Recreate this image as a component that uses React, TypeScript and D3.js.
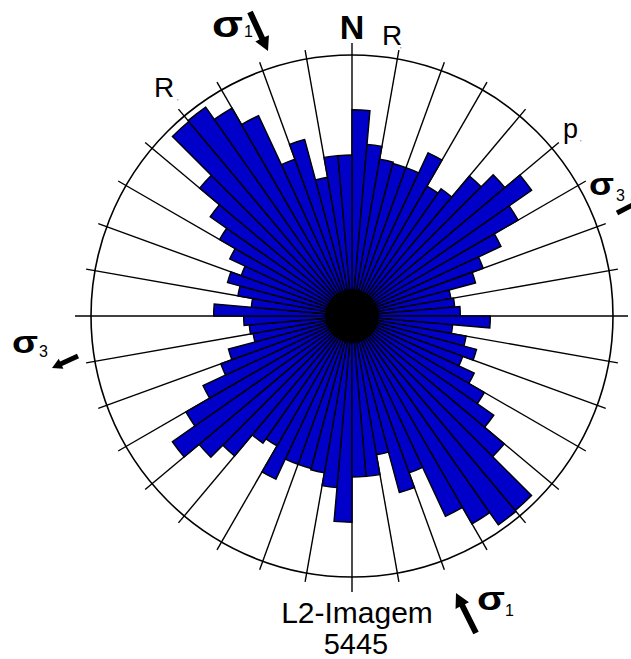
import React from "react";
import * as d3 from "d3";

// Bidirectional rose diagram, 5° bins from 0° to 180° (mirrored to 180°–360°)
// values in % of the outer circle
const binStarts = d3.range(0, 180, 5);
const binValues = [
  79, 66, 61, 60.5, 60.5, 69, 57.5, 59.5, 70, 76.5, 84, 73.5, 63, 53.5, 49, 38.5, 39.5, 41.5,
  53, 38.7, 44.4, 49.4, 45.2, 51.7, 58.6, 66.3, 76.2, 97.3, 97.7, 92, 84.7, 64, 70, 54, 61.7, 61.7,
];
const tickAngles = d3.range(0, 360, 10);
const circleValue = 100;

const W = 631;
const H = 659;
const cx = 352;
const cy = 316;
const R = 261;
const font = "'Liberation Sans', Arial, sans-serif";

function arrowPoints(x1: number, y1: number, x2: number, y2: number, sw: number, hw: number, hl: number) {
  const dx = x2 - x1, dy = y2 - y1;
  const L = Math.hypot(dx, dy);
  const ux = dx / L, uy = dy / L;
  const px = -uy, py = ux;
  const bx = x2 - ux * hl, by = y2 - uy * hl;
  const pts = [
    [x1 + px * sw / 2, y1 + py * sw / 2],
    [bx + px * sw / 2, by + py * sw / 2],
    [bx + px * hw / 2, by + py * hw / 2],
    [x2, y2],
    [bx - px * hw / 2, by - py * hw / 2],
    [bx - px * sw / 2, by - py * sw / 2],
    [x1 - px * sw / 2, y1 - py * sw / 2],
  ];
  return pts.map((p) => p.join(",")).join(" ");
}

export default function App() {
  const r = d3.scaleLinear().domain([0, circleValue]).range([0, R]);
  const arc = d3.arc<any>();
  const rad = (deg: number) => (deg * Math.PI) / 180;
  const bars: { a0: number; a1: number; v: number }[] = [];
  binStarts.forEach((s, i) => {
    bars.push({ a0: s, a1: s + 5, v: binValues[i] });
    bars.push({ a0: s + 180, a1: s + 185, v: binValues[i] });
  });
  const tickOuter = (a: number) => (a === 0 ? 273 : a === 180 ? 276 : a === 90 ? 276 : a === 270 ? 277 : 270);

  return (
    <svg width={W} height={H} style={{ position: "absolute", left: 0, top: 0, background: "#fff" }} fontFamily={font}>
      <rect x={0} y={0} width={W} height={H} fill="#fff" />
      <g transform={`translate(${cx},${cy})`}>
        {tickAngles.map((a) => {
          const L = tickOuter(a);
          return (
            <line key={"t" + a} x1={0} y1={0} x2={L * Math.sin(rad(a))} y2={-L * Math.cos(rad(a))} stroke="#000" strokeWidth={1.4} />
          );
        })}
        <circle r={R} fill="none" stroke="#000" strokeWidth={1.6} />
        {bars.map((b, i) => (
          <path
            key={i}
            d={arc({ innerRadius: 0, outerRadius: r(b.v), startAngle: rad(b.a0), endAngle: rad(b.a1) }) as string}
            fill="#0000c8"
            stroke="#000"
            strokeWidth={1.4}
            strokeLinejoin="miter"
          />
        ))}
        <circle r={27} fill="#000" />
      </g>
      {/* labels */}
      <text x={352} y={39} fontSize={34} fontWeight="bold" textAnchor="middle">N</text>
      <text x={382} y={45} fontSize={28}>R</text>
      <text x={400} y={52} fontSize={8} fill="#666">'</text>
      <text x={154} y={97} fontSize={28}>R</text>
      <text x={177} y={104} fontSize={8} fill="#666">'</text>
      <text x={563} y={138} fontSize={27}>p</text>
      <text x={580} y={145} fontSize={8} fill="#666">'</text>

      <text x={212} y={37} fontSize={36} fontWeight="bold" textLength={31} lengthAdjust="spacingAndGlyphs">σ</text>
      <text x={244} y={37} fontSize={16}>1</text>
      <polygon points={arrowPoints(250, 12, 268, 51, 6, 15, 14)} fill="#000" />

      <text x={589} y={195} fontSize={32} fontWeight="bold" textLength={25} lengthAdjust="spacingAndGlyphs">σ</text>
      <text x={616} y={201} fontSize={16}>3</text>
      <polygon points={arrowPoints(617, 213, 642, 200, 5, 11, 10)} fill="#000" />

      <text x={12} y={353} fontSize={32} fontWeight="bold" textLength={26} lengthAdjust="spacingAndGlyphs">σ</text>
      <text x={39} y={357} fontSize={16}>3</text>
      <polygon points={arrowPoints(78, 356, 52, 368, 5, 11, 10)} fill="#000" />

      <text x={477} y={610} fontSize={34} fontWeight="bold" textLength={28} lengthAdjust="spacingAndGlyphs">σ</text>
      <text x={505} y={616} fontSize={16}>1</text>
      <polygon points={arrowPoints(476, 633, 456, 593, 6, 15, 14)} fill="#000" />

      <text x={357} y={623} fontSize={30} textAnchor="middle">L2-Imagem</text>
      <text x={356} y={654} fontSize={29} textAnchor="middle">5445</text>
    </svg>
  );
}
